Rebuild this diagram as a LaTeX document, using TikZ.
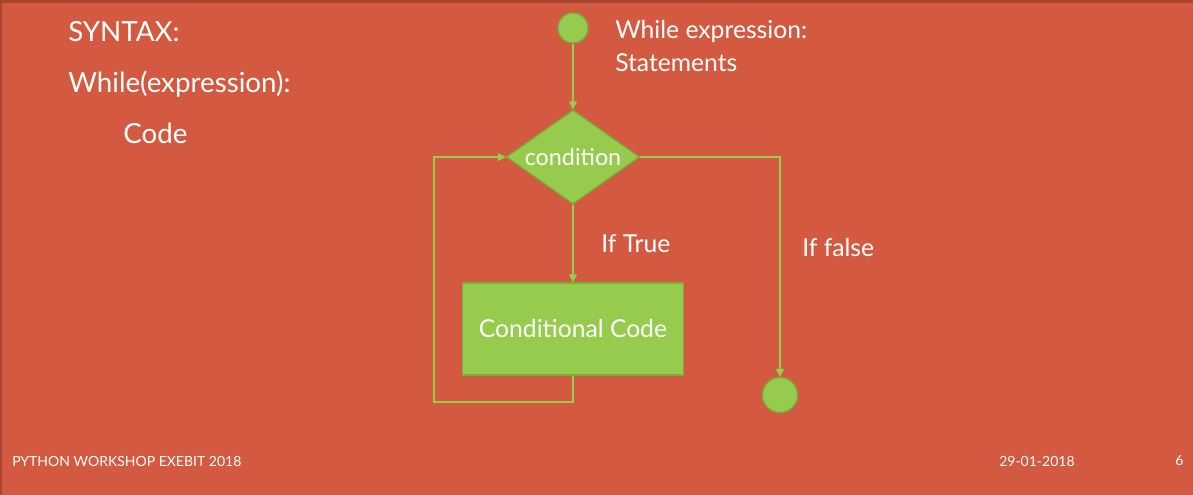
\documentclass[tikz,border=0pt]{standalone}
\usepackage{fontspec}
\setmainfont{Lato}
\usetikzlibrary{arrows.meta,shapes.geometric}
\definecolor{bg}{HTML}{D35A40}
\definecolor{bgdark}{HTML}{A8442F}
\definecolor{gfill}{HTML}{97CB4E}
\definecolor{gedge}{HTML}{7AAE3A}
\definecolor{gline}{HTML}{9ACC4E}
\tikzset{
  conn/.style={draw=gline, line width=0.9pt},
  arr/.style={conn, -{Triangle[length=6pt,width=6pt]}},
  term/.style={circle, fill=gfill, draw=gedge, line width=1pt, inner sep=0pt},
  dec/.style={diamond, fill=gfill, draw=gedge, line width=1pt, inner sep=0pt, minimum width=133*0.75pt, minimum height=94*0.75pt},
  dectext/.style={text=white, inner sep=0pt, font=\fontsize{17.5}{20}\selectfont},
  proc/.style={rectangle, fill=gfill, draw=gedge, line width=1pt, minimum width=221*0.75pt, minimum height=92*0.75pt, text=white, font=\fontsize{18.5}{22}\selectfont},
  lbl/.style={text=white, anchor=west, inner sep=0pt, font=\fontsize{18.5}{22}\selectfont},
  big/.style={text=white, anchor=west, inner sep=0pt, font=\fontsize{20.8}{25}\selectfont},
  foot/.style={text=white, anchor=west, inner sep=0pt, font=\fontsize{10.5}{12}\selectfont},
}
\begin{document}
\begin{tikzpicture}[x=0.75pt,y=-0.75pt]
\fill[bg] (0,0) rectangle (1193,495);
\useasboundingbox (0,0) rectangle (1193,495);
\fill[bgdark] (0,0) rectangle (1193,3);
\fill[bgdark] (0,0) rectangle (2,495);
% left text
\node[big] (syn) at (68,32) {SYNTAX:};
\node[big] (wh) at (68,84) {While(expression):};
\node[big] (cd) at (123,133) {Code};
% flowchart
\node[term, minimum size=30*0.75pt] (start) at (573,28) {};
\node[dec] (cond) at (573,157) {};
\node[dectext] (condt) at (cond.center) {condition};
\node[proc] (cc) at (573,329) {Conditional Code};
\node[term, minimum size=35*0.75pt] (stop) at (780,395) {};
\coordinate (bl) at (573,402);
\coordinate (bll) at (434,402);
\coordinate (tl) at (434,157);
\coordinate (tr) at (780,157);
\draw[arr] (start) -- (cond);
\draw[arr] (cond) -- (cc);
\draw[arr] (cond.east) -- (tr) -- (stop);
\draw[arr] (cc.south) -- (bl) -- (bll) -- (tl) -- (cond.west);
% labels
\node[lbl] (we) at (615,32) {While expression:};
\node[lbl] (st) at (615,63) {Statements};
\node[lbl] (it) at (601,244) {If True};
\node[lbl] (if) at (802,248) {If false};
% footer
\node[foot] (f1) at (12,461) {PYTHON WORKSHOP EXEBIT 2018};
\node[foot] (f2) at (999,461) {29-01-2018};
\node[foot] (f3) at (1175,461) {6};
\end{tikzpicture}
\end{document}
